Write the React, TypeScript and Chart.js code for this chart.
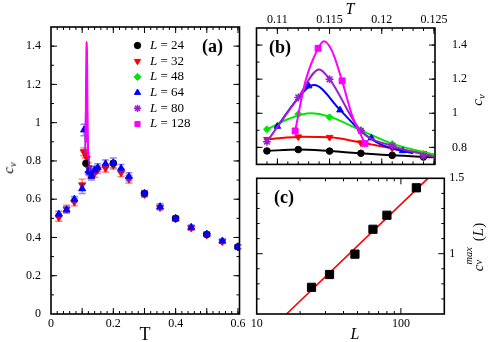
import React, { useEffect, useRef } from "react";
import { Chart, registerables } from "chart.js";
import { drawPoint } from "chart.js/helpers";
Chart.register(...registerables);

const SERIF = '"Liberation Serif", "Times New Roman", Times, serif';

// ---------------- series identity ----------------
const SIZES = ["24", "32", "48", "64", "80", "128"];
const COLORS = ["#000000", "#ff0000", "#00e600", "#0000ff", "#9b1fd1", "#ff00ff"];
const STYLES = ["circle", "triangle", "rectRot", "triangle", "star", "rect"];
const ROTATIONS = [0, 180, 0, 0, 0, 0];

// ---------------- panel (a): c_v vs T, full range ----------------
const A_X_TICKS = [0, 0.2, 0.4, 0.6];
const A_X_LABELS = ["0", "0.2", "0.4", "0.6"];
const A_Y_TICKS = [0, 0.2, 0.4, 0.6, 0.8, 1, 1.2, 1.4];
const A_Y_LABELS = ["0", "0.2", "0.4", "0.6", "0.8", "1", "1.2", "1.4"];

const A_T_L24 = [0.112, 0.2, 0.3, 0.4, 0.5, 0.6];
const A_CV_L24 = [0.787, 0.788, 0.63, 0.5, 0.416, 0.351];

const A_T_L32 = [0.025, 0.05, 0.075, 0.1, 0.105, 0.11, 0.115, 0.12, 0.125, 0.13, 0.14, 0.15, 0.175, 0.2, 0.225, 0.25, 0.3, 0.35, 0.4, 0.45, 0.5, 0.55, 0.6];
const A_CV_L32 = [0.505, 0.548, 0.585, 0.675, 0.848, 0.835, 0.815, 0.765, 0.73, 0.74, 0.735, 0.755, 0.762, 0.778, 0.738, 0.705, 0.625, 0.556, 0.497, 0.45, 0.413, 0.378, 0.35];
const A_ERR_L32 = [0.02, 0.02, 0.02, 0.03, 0.02, 0.02, 0.025, 0.025, 0.02, 0.03, 0.02, 0.02, 0.02, 0.02, 0.02, 0.02, 0.015, 0.012, 0.012, 0.012, 0.01, 0.01, 0.01];

const A_T_L64 = [0.025, 0.05, 0.075, 0.1, 0.106, 0.12, 0.125, 0.13, 0.14, 0.15, 0.175, 0.2, 0.225, 0.25, 0.3, 0.35, 0.4, 0.45, 0.5, 0.55, 0.6];
const A_CV_L64 = [0.522, 0.545, 0.6, 0.655, 0.962, 0.748, 0.742, 0.72, 0.752, 0.765, 0.785, 0.79, 0.762, 0.718, 0.631, 0.561, 0.5, 0.453, 0.418, 0.382, 0.352];
const A_ERR_L64 = [0.015, 0.015, 0.015, 0.025, 0.03, 0.02, 0.02, 0.02, 0.02, 0.02, 0.02, 0.025, 0.02, 0.02, 0.015, 0.015, 0.012, 0.012, 0.012, 0.012, 0.01];

// ---------------- panel (b): zoom near the peak ----------------
const B_X_TICKS = [0.11, 0.115, 0.12, 0.125];
const B_X_LABELS = ["0.11", "0.115", "0.12", "0.125"];
const B_Y_TICKS = [0.8, 1, 1.2, 1.4];
const B_Y_LABELS = ["0.8", "1", "1.2", "1.4"];

const B_T_L24 = [0.109, 0.112, 0.115, 0.118, 0.121, 0.124];
const B_CV_L24 = [0.779, 0.787, 0.778, 0.765, 0.753, 0.743];
const B_T_L32 = [0.109, 0.112, 0.115, 0.118, 0.121, 0.124];
const B_CV_L32 = [0.847, 0.862, 0.859, 0.827, 0.794, 0.765];
const B_T_L48 = [0.109, 0.112, 0.115, 0.118, 0.121, 0.124];
const B_CV_L48 = [0.906, 0.995, 0.976, 0.901, 0.819, 0.761];
const B_T_L64 = [0.11, 0.113, 0.116, 0.119, 0.122];
const B_CV_L64 = [0.923, 1.16, 1.019, 0.855, 0.78];
const B_T_L80 = [0.109, 0.112, 0.115, 0.118, 0.121, 0.124];
const B_CV_L80 = [0.833, 1.093, 1.199, 0.897, 0.808, 0.749];
const B_T_L128 = [0.1117, 0.1139, 0.1162, 0.1184];
const B_CV_L128 = [0.896, 1.381, 1.19, 0.823];

// fitted curves
const FIT_T_L24 = [0.109, 0.112, 0.115, 0.118, 0.121, 0.125];
const FIT_CV_L24 = [0.779, 0.787, 0.778, 0.765, 0.753, 0.742];
const FIT_T_L32 = [0.109, 0.1125, 0.115, 0.118, 0.121, 0.125];
const FIT_CV_L32 = [0.847, 0.862, 0.859, 0.829, 0.795, 0.757];
const FIT_T_L48 = [0.109, 0.111, 0.1132, 0.115, 0.118, 0.121, 0.125];
const FIT_CV_L48 = [0.905, 0.965, 1.0, 0.98, 0.9, 0.822, 0.757];
const FIT_T_L64 = [0.11, 0.1115, 0.113, 0.1135, 0.116, 0.118, 0.12, 0.123];
const FIT_CV_L64 = [0.922, 1.05, 1.155, 1.165, 1.02, 0.895, 0.815, 0.765];
const FIT_T_L80 = [0.109, 0.112, 0.114, 0.115, 0.118, 0.121, 0.125];
const FIT_CV_L80 = [0.833, 1.093, 1.257, 1.2, 0.897, 0.808, 0.745];
const FIT_T_L128 = [0.1117, 0.1127, 0.1139, 0.11445, 0.1152, 0.1162, 0.1172, 0.1184];
const FIT_CV_L128 = [0.896, 1.19, 1.38, 1.423, 1.37, 1.19, 0.98, 0.823];

// ---------------- panel (c): peak height vs L ----------------
const C_X_TICKS = [10, 100];
const C_X_LABELS = ["10", "100"];
const C_Y_TICKS = [1, 1.5];
const C_Y_LABELS = ["1", "1.5"];
const C_L = [24, 32, 48, 64, 80, 128];
const C_CVMAX = [0.777, 0.862, 0.997, 1.162, 1.255, 1.437];
const C_FIT_L = [16.1, 154];
const C_FIT_CV = [0.6, 1.5];

// ---------------- helpers ----------------
const W = 491;
const H = 342;
const pts = (xs: number[], ys: number[]) => xs.map((x, i) => ({ x, y: ys[i] }));
const steps = (a: number, b: number, s: number) => {
  const out: number[] = [];
  const n = Math.round((b - a) / s);
  for (let i = 0; i <= n; i++) out.push(+(a + i * s).toFixed(6));
  return out;
};

function framePlugin(spec: any) {
  return {
    id: "frame",
    afterDatasetsDraw(chart: any) {
      const { ctx, chartArea: ca } = chart;
      const xs = chart.scales.x;
      const ys = chart.scales.y;
      ctx.save();
      ctx.strokeStyle = "#000";
      ctx.lineWidth = 1;
      const tickX = (vals: number[], len: number) => {
        for (const v of vals) {
          const p = xs.getPixelForValue(v);
          if (p < ca.left + 0.5 || p > ca.right - 0.5) continue;
          ctx.beginPath();
          ctx.moveTo(p, ca.bottom);
          ctx.lineTo(p, ca.bottom - len);
          ctx.moveTo(p, ca.top);
          ctx.lineTo(p, ca.top + len);
          ctx.stroke();
        }
      };
      const tickY = (vals: number[], len: number) => {
        for (const v of vals) {
          const p = ys.getPixelForValue(v);
          if (p < ca.top + 0.5 || p > ca.bottom - 0.5) continue;
          ctx.beginPath();
          ctx.moveTo(ca.left, p);
          ctx.lineTo(ca.left + len, p);
          ctx.moveTo(ca.right, p);
          ctx.lineTo(ca.right - len, p);
          ctx.stroke();
        }
      };
      tickX(spec.xMajor, 6);
      tickX(spec.xMinor, 3);
      tickY(spec.yMajor, 6);
      tickY(spec.yMinor, 3);
      ctx.lineWidth = 1.6;
      ctx.strokeRect(ca.left, ca.top, ca.right - ca.left, ca.bottom - ca.top);
      ctx.restore();
    },
  };
}

const errorBarPlugin = {
  id: "errorBars",
  beforeDatasetDraw(chart: any, args: any) {
    const ds: any = chart.data.datasets[args.index];
    if (!ds.errors) return;
    const meta = args.meta;
    const ys = chart.scales[meta.yAxisID];
    const ctx = chart.ctx;
    ctx.save();
    ctx.strokeStyle = ds.errorColor;
    ctx.lineWidth = 1.4;
    meta.data.forEach((pt: any, i: number) => {
      const e = ds.errors[i];
      const v = ds.data[i].y;
      const y1 = ys.getPixelForValue(v - e);
      const y2 = ys.getPixelForValue(v + e);
      const x = pt.x;
      ctx.beginPath();
      ctx.moveTo(x, y1);
      ctx.lineTo(x, y2);
      ctx.moveTo(x - 3.5, y1);
      ctx.lineTo(x + 3.5, y1);
      ctx.moveTo(x - 3.5, y2);
      ctx.lineTo(x + 3.5, y2);
      ctx.stroke();
    });
    ctx.restore();
  },
};

const legendPlugin = {
  id: "insideLegend",
  afterDatasetsDraw(chart: any) {
    const ctx = chart.ctx;
    const mx = 137.5;
    const tx = 150;
    const y0 = 45.5;
    const dy = 15.7;
    SIZES.forEach((s, i) => {
      const y = y0 + i * dy;
      ctx.save();
      ctx.fillStyle = COLORS[i];
      ctx.strokeStyle = COLORS[i];
      ctx.lineWidth = i === 4 ? 1.5 : 1;
      drawPoint(ctx, { pointStyle: STYLES[i], rotation: ROTATIONS[i], radius: i === 0 ? 3.2 : 3.6, borderWidth: ctx.lineWidth } as any, mx, y);
      ctx.fillStyle = "#000";
      ctx.textBaseline = "middle";
      ctx.textAlign = "left";
      ctx.font = `italic 13px ${SERIF}`;
      ctx.fillText("L", tx, y);
      const w = ctx.measureText("L").width;
      ctx.font = `13px ${SERIF}`;
      ctx.fillText(" = " + s, tx + w, y);
      ctx.restore();
    });
  },
};

function axis(opts: any) {
  const { ticks, labels, fit, pad, ...rest } = opts;
  return {
    ...rest,
    grid: { display: false, drawTicks: false },
    border: { display: false },
    afterBuildTicks: (s: any) => {
      s.ticks = ticks.map((v: number) => ({ value: v }));
    },
    afterFit: (s: any) => {
      if (s.isHorizontal()) s.height = fit;
      else s.width = fit;
    },
    ticks: {
      callback: (_v: any, i: number) => labels[i],
      padding: pad,
      color: "#000",
      font: { size: 12, family: SERIF },
      autoSkip: false,
      maxRotation: 0,
      minRotation: 0,
    },
  };
}

function markerDs(i: number, data: any[], order: number, radius: number, extra: any = {}) {
  return {
    data,
    order,
    showLine: false,
    pointStyle: STYLES[i],
    rotation: ROTATIONS[i],
    pointRadius: radius,
    pointBackgroundColor: COLORS[i],
    pointBorderColor: COLORS[i],
    pointBorderWidth: i === 4 ? 1.5 : 1,
    ...extra,
  };
}

function curveDs(i: number, data: any[], order: number, width = 2) {
  return {
    data,
    order,
    showLine: true,
    pointRadius: 0,
    borderColor: COLORS[i],
    borderWidth: width,
    cubicInterpolationMode: "monotone",
  };
}

const basePlugins = { legend: { display: false }, tooltip: { enabled: false } };

function configA(): any {
  return {
    type: "scatter",
    data: {
      datasets: [
        curveDs(5, pts(FIT_T_L128, FIT_CV_L128), 0, 2.2),
        curveDs(4, pts(FIT_T_L80, FIT_CV_L80), 1, 1.6),
        markerDs(3, pts(A_T_L64, A_CV_L64), 2, 4, { errors: A_ERR_L64, errorColor: "rgba(40,40,255,0.55)" }),
        markerDs(0, pts(A_T_L24, A_CV_L24), 3, 3.3),
        markerDs(1, pts(A_T_L32, A_CV_L32), 4, 4, { errors: A_ERR_L32, errorColor: "rgba(255,30,30,0.6)" }),
        curveDs(2, pts(FIT_T_L48, FIT_CV_L48), 5, 1.5),
      ],
    },
    options: {
      responsive: false,
      animation: false,
      layout: { padding: { left: 0, top: 27, right: W - 239.5, bottom: 0 } },
      plugins: basePlugins,
      scales: {
        x: axis({ type: "linear", position: "bottom", min: 0, max: 0.605, ticks: A_X_TICKS, labels: A_X_LABELS, fit: 28, pad: 3 }),
        y: axis({ type: "linear", position: "left", min: 0, max: 1.5, ticks: A_Y_TICKS, labels: A_Y_LABELS, fit: 51, pad: 10 }),
      },
    },
    plugins: [
      errorBarPlugin,
      framePlugin({ xMajor: steps(0, 0.6, 0.1), xMinor: steps(0, 0.6, 0.02), yMajor: steps(0, 1.4, 0.2), yMinor: steps(0.1, 1.5, 0.1) }),
      legendPlugin,
    ],
  };
}

function configB(): any {
  return {
    type: "scatter",
    data: {
      datasets: [
        curveDs(5, pts(FIT_T_L128, FIT_CV_L128), 0),
        markerDs(5, pts(B_T_L128, B_CV_L128), 0, 4.2),
        curveDs(4, pts(FIT_T_L80, FIT_CV_L80), 2),
        markerDs(4, pts(B_T_L80, B_CV_L80), 2, 4),
        curveDs(3, pts(FIT_T_L64, FIT_CV_L64), 4),
        markerDs(3, pts(B_T_L64, B_CV_L64), 4, 3.8),
        curveDs(2, pts(FIT_T_L48, FIT_CV_L48), 6),
        markerDs(2, pts(B_T_L48, B_CV_L48), 6, 3.5),
        curveDs(1, pts(FIT_T_L32, FIT_CV_L32), 8),
        markerDs(1, pts(B_T_L32, B_CV_L32), 8, 3.8),
        curveDs(0, pts(FIT_T_L24, FIT_CV_L24), 10),
        markerDs(0, pts(B_T_L24, B_CV_L24), 10, 3.3),
      ],
    },
    options: {
      responsive: false,
      animation: false,
      layout: { padding: { left: 256.5, top: 0, right: W - 435 - 45, bottom: H - 164.4 } },
      plugins: basePlugins,
      scales: {
        x: axis({ type: "linear", position: "top", min: 0.108, max: 0.1251, ticks: B_X_TICKS, labels: B_X_LABELS, fit: 28, pad: 1 }),
        y: axis({ type: "linear", position: "right", min: 0.7, max: 1.5, ticks: B_Y_TICKS, labels: B_Y_LABELS, fit: 45, pad: 17 }),
      },
    },
    plugins: [
      framePlugin({ xMajor: B_X_TICKS, xMinor: steps(0.108, 0.125, 0.001), yMajor: B_Y_TICKS, yMinor: steps(0.7, 1.5, 0.1) }),
    ],
  };
}

function configC(): any {
  return {
    type: "scatter",
    data: {
      datasets: [
        {
          data: pts(C_L, C_CVMAX),
          order: 0,
          showLine: false,
          pointStyle: "rect",
          pointRadius: 5.8,
          pointBackgroundColor: "#000",
          pointBorderColor: "#000",
        },
        {
          data: pts(C_FIT_L, C_FIT_CV),
          order: 1,
          showLine: true,
          pointRadius: 0,
          borderColor: "#ff0000",
          borderWidth: 1.6,
        },
      ],
    },
    options: {
      responsive: false,
      animation: false,
      layout: { padding: { left: 256.7, top: 178.3, right: W - 444.3 - 40, bottom: 0 } },
      plugins: basePlugins,
      scales: {
        x: axis({ type: "logarithmic", position: "bottom", min: 10, max: 200, ticks: C_X_TICKS, labels: C_X_LABELS, fit: 28, pad: 3 }),
        y: axis({ type: "linear", position: "right", min: 0.6, max: 1.5, ticks: C_Y_TICKS, labels: C_Y_LABELS, fit: 40, pad: 5 }),
      },
    },
    plugins: [
      framePlugin({
        xMajor: C_X_TICKS,
        xMinor: [20, 30, 40, 50, 60, 70, 80, 90, 200],
        yMajor: C_Y_TICKS,
        yMinor: [0.7, 0.8, 0.9, 1.1, 1.2, 1.3, 1.4],
      }),
    ],
  };
}

const abs = (left: number, top: number, extra: any = {}): React.CSSProperties => ({
  position: "absolute",
  left,
  top,
  transform: "translate(-50%, -50%)",
  whiteSpace: "nowrap",
  lineHeight: 1,
  color: "#000",
  ...extra,
});

export default function App() {
  const refA = useRef<HTMLCanvasElement>(null);
  const refB = useRef<HTMLCanvasElement>(null);
  const refC = useRef<HTMLCanvasElement>(null);

  useEffect(() => {
    const charts = [
      new Chart(refA.current as HTMLCanvasElement, configA()),
      new Chart(refB.current as HTMLCanvasElement, configB()),
      new Chart(refC.current as HTMLCanvasElement, configC()),
    ];
    return () => charts.forEach((c) => c.destroy());
  }, []);

  const cv: React.CSSProperties = { position: "absolute", left: 0, top: 0, width: W, height: H };
  const sub: React.CSSProperties = { fontSize: "0.7em", verticalAlign: "-0.3em" };

  return (
    <div style={{ position: "absolute", left: 0, top: 0, width: W, height: H, overflow: "hidden", background: "#fff", fontFamily: SERIF }}>
      <canvas ref={refA} width={W} height={H} style={cv} />
      <canvas ref={refB} width={W} height={H} style={cv} />
      <canvas ref={refC} width={W} height={H} style={cv} />

      <div style={abs(212.5, 46, { fontSize: 18, fontWeight: "bold" })}>(a)</div>
      <div style={abs(280, 47, { fontSize: 18, fontWeight: "bold" })}>(b)</div>
      <div style={abs(284, 197, { fontSize: 18, fontWeight: "bold" })}>(c)</div>

      <div style={abs(145, 334, { fontSize: 18 })}>T</div>
      <div style={abs(10, 168, { fontSize: 15, transform: "translate(-50%, -50%) rotate(-90deg)" })}>
        <i>c</i>
        <i style={sub}>v</i>
      </div>

      <div style={abs(350, 9, { fontSize: 16, fontStyle: "italic" })}>T</div>
      <div style={abs(479, 100, { fontSize: 15, transform: "translate(-50%, -50%) rotate(-90deg)" })}>
        <i>c</i>
        <i style={sub}>v</i>
      </div>

      <div style={abs(355, 334, { fontSize: 16, fontStyle: "italic" })}>L</div>
      <div style={abs(477, 247, { fontSize: 15, transform: "translate(-50%, -50%) rotate(-90deg)" })}>
        <i>c</i>
        <span style={{ display: "inline-block", position: "relative", width: "1.3em", height: "1em" }}>
          <i style={{ position: "absolute", left: 0, top: "-0.35em", fontSize: "0.7em" }}>max</i>
          <i style={{ position: "absolute", left: 0, top: "0.55em", fontSize: "0.7em" }}>v</i>
        </span>
        <span> (</span>
        <i>L</i>
        <span>)</span>
      </div>
    </div>
  );
}
